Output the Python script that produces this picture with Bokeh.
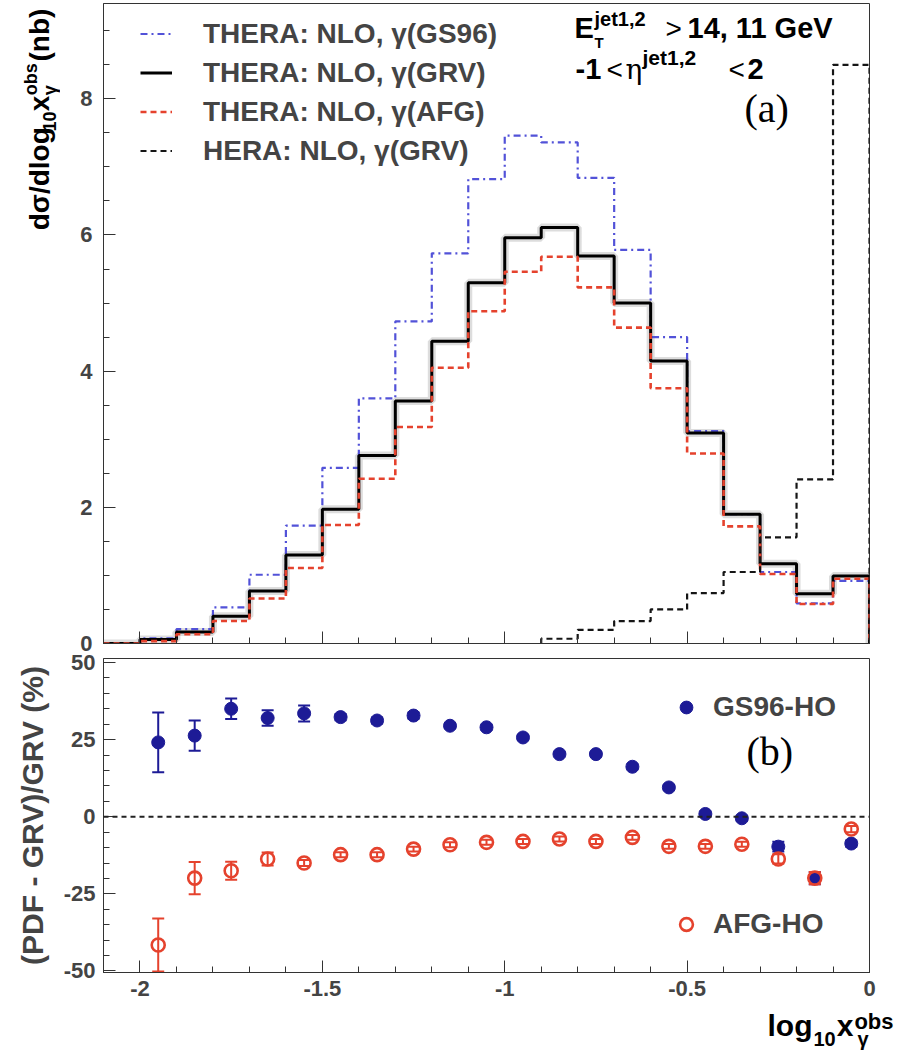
from math import pi
from bokeh.plotting import figure
from bokeh.models import (Range1d, FixedTicker, CustomJSTickFormatter, Legend, LegendItem,
                          Label, Span, Whisker, ColumnDataSource, TeeHead)
from bokeh.layouts import column, row
from bokeh.embed import file_html
from bokeh.resources import INLINE

# ---------------- data ----------------
bin_edges = [-2.1, -2.0, -1.9, -1.8, -1.7, -1.6, -1.5, -1.4, -1.3, -1.2, -1.1,
             -1.0, -0.9, -0.8, -0.7, -0.6, -0.5, -0.4, -0.3, -0.2, -0.1, 0.0]
thera_gs96 = [0.0, 0.075, 0.21, 0.53, 1.01, 1.73, 2.58, 3.60, 4.73, 5.73, 6.82,
              7.46, 7.36, 6.84, 5.78, 4.50, 3.12, 1.90, 1.05, 0.59, 0.92]
thera_grv = [0.0, 0.06, 0.17, 0.40, 0.77, 1.30, 1.97, 2.76, 3.56, 4.44, 5.30,
             5.96, 6.11, 5.69, 5.00, 4.15, 3.09, 1.90, 1.17, 0.73, 0.99]
thera_afg = [0.0, 0.035, 0.135, 0.33, 0.66, 1.11, 1.74, 2.42, 3.18, 4.05, 4.88,
             5.46, 5.68, 5.23, 4.64, 3.75, 2.79, 1.72, 1.02, 0.58, 0.95]
hera_edges = [-0.9, -0.8, -0.7, -0.6, -0.5, -0.4, -0.3, -0.2, -0.1, 0.0]
hera_grv = [0.07, 0.20, 0.33, 0.50, 0.74, 1.05, 1.56, 2.41, 8.50]

ratio_x = [-1.95, -1.85, -1.75, -1.65, -1.55, -1.45, -1.35, -1.25, -1.15, -1.05,
           -0.95, -0.85, -0.75, -0.65, -0.55, -0.45, -0.35, -0.25, -0.15, -0.05]
gs96_ratio = [24.1, 26.3, 35.0, 32.0, 33.5, 32.3, 31.2, 32.8, 29.5, 29.0,
              25.7, 20.3, 20.3, 16.2, 9.5, 0.9, -0.5, -9.7, -19.9, -8.7]
gs96_err = [9.7, 4.9, 3.3, 2.5, 2.6, 1.0, 1.0, 1.0, 0.8, 0.8,
            0.8, 0.8, 0.8, 0.8, 0.8, 0.8, 0.8, 1.6, 2.0, 1.0]
afg_ratio = [-41.6, -19.9, -17.5, -13.7, -15.0, -12.3, -12.3, -10.5, -9.1, -8.3,
             -8.0, -7.2, -8.0, -6.7, -9.6, -9.6, -8.9, -13.7, -19.9, -4.0]
afg_err = [8.6, 5.2, 2.9, 2.1, 1.0, 0.8, 0.8, 0.8, 0.8, 0.8,
           0.8, 0.8, 0.8, 0.8, 0.8, 0.8, 0.8, 1.5, 2.0, 1.0]

x_ticks = [-2.0, -1.5, -1.0, -0.5, 0.0]
top_y_ticks = [0, 2, 4, 6, 8]
bot_y_ticks = [-50, -25, 0, 25, 50]

# ---------------- helpers ----------------
FONT = "Liberation Sans"
C_BLUE_LINE = "#5252d8"
C_RED = "#e5422d"
C_NAVY = "#1d1b96"
BASE_SHIFT = 0.36   # empirical baseline correction (fraction of font size)

W = {' ': .278, '(': .333, ')': .333, ',': .278, '-': .333, '.': .278, '/': .278,
     ':': .333, '<': .584, '>': .584, '%': .889, 'A': .722, 'D': .722, 'E': .667,
     'F': .611, 'G': .778, 'H': .722, 'L': .611, 'N': .722, 'O': .778, 'P': .667,
     'R': .722, 'S': .667, 'T': .611, 'V': .667, 'b': .611, 'd': .611, 'e': .556,
     'g': .611, 'j': .278, 'l': .278, 'n': .611, 'o': .611, 's': .556, 't': .333,
     'x': .556, 'γ': .556, 'σ': .617, 'η': .611}


def tw(s, size):
    return sum(W.get(c, 0.556) for c in s) * size


def step_xy(edges, vals):
    xs, ys = [edges[0]], [0.0]
    for i, v in enumerate(vals):
        xs += [edges[i], edges[i + 1]]
        ys += [v, v]
    xs.append(edges[-1])
    ys.append(0.0)
    return xs, ys


def make_label(x, y, text, size, style="bold", font=FONT, angle=0.0,
               x_offset=0, y_offset=0):
    return Label(x=x, y=y, x_offset=x_offset, y_offset=y_offset, text=text,
                 text_font=font, text_font_size=f"{size}px", text_font_style=style,
                 angle=angle, text_align="left", text_baseline="alphabetic",
                 text_color="black")


def corrected(px, py, size, angle):
    sh = BASE_SHIFT * size
    if angle == 0.0:
        return px, py - sh
    return px - sh, py


FRAME_LEFT = 103


def put(p, anchor, frame_bottom, px, py, text, size, style="bold", font=FONT, angle=0.0):
    """Label inside a plot frame, positioned in page pixels relative to a frame anchor."""
    px, py = corrected(px, py, size, angle)
    p.add_layout(make_label(anchor[0], anchor[1], text, size, style, font, angle,
                            x_offset=px - FRAME_LEFT, y_offset=frame_bottom - py))


def text_fig(w, h):
    f = figure(width=w, height=h, x_range=Range1d(0, w), y_range=Range1d(h, 0),
               x_axis_type=None, y_axis_type=None, output_backend="svg",
               toolbar_location=None, min_border=0)
    f.grid.visible = False
    f.outline_line_color = None
    f.background_fill_alpha = 0.0
    f.border_fill_alpha = 0.0
    return f


def tput(f, origin, px, py, text, size, style="bold", font=FONT, angle=0.0):
    px, py = corrected(px, py, size, angle)
    f.add_layout(make_label(px - origin[0], py - origin[1], text, size, style, font, angle))


fmt = CustomJSTickFormatter(code="return String(Math.round(tick*10)/10);")
blank_fmt = CustomJSTickFormatter(code="return '';")


def style_axis(ax, size, standoff, formatter=fmt):
    ax.major_label_text_font = FONT
    ax.major_label_text_font_style = "bold"
    ax.major_label_text_font_size = size
    ax.major_label_standoff = standoff
    ax.major_tick_in = 12
    ax.major_tick_out = 0
    ax.minor_tick_in = 6
    ax.minor_tick_out = 0
    ax.axis_line_color = "#333333"
    ax.major_tick_line_color = "#333333"
    ax.minor_tick_line_color = "#333333"
    ax.formatter = formatter


x_minor = [round(-2.1 + 0.1 * i, 2) for i in range(22)]

LEFT_W = 60
OVERLAP = 20
TOP_H = 3 + 640 + OVERLAP          # 663
BOT_TOP = 643                      # page y where the bottom row starts
BOT_H = 15 + 314 + 35              # 364
TITLE_TOP = BOT_TOP + BOT_H        # 1007
TITLE_H = 1055 - TITLE_TOP

# ---------------- top panel ----------------
p1 = figure(width=905 - LEFT_W, height=TOP_H, x_range=Range1d(-2.1, 0.0),
            y_range=Range1d(0, 9.4), output_backend="svg", toolbar_location=None,
            min_border_left=FRAME_LEFT - LEFT_W, min_border_right=36,
            min_border_top=3, min_border_bottom=OVERLAP)
p1.grid.visible = False
p1.outline_line_color = "#333333"
p1.border_fill_alpha = 0.0

gx, gy = step_xy(bin_edges, thera_gs96)
kx, ky = step_xy(bin_edges, thera_grv)
ax_, ay_ = step_xy(bin_edges, thera_afg)
hx, hy = step_xy(hera_edges, hera_grv)

p1.line(kx, ky, line_color="#909090", line_alpha=0.3, line_width=8)
r_gs = p1.line(gx, gy, line_color=C_BLUE_LINE, line_width=2.2, line_dash="7 4 2 4")
r_grv = p1.line(kx, ky, line_color="black", line_width=3)
r_afg = p1.line(ax_, ay_, line_color=C_RED, line_width=2.6, line_dash="6 4")
r_hera = p1.line(hx, hy, line_color="#151515", line_width=2.2, line_dash="6 4")

p1.xaxis.ticker = FixedTicker(ticks=x_ticks, minor_ticks=x_minor)
p1.yaxis.ticker = FixedTicker(ticks=top_y_ticks, minor_ticks=[0.5 * i for i in range(19)])
style_axis(p1.xaxis[0], "2px", 0, formatter=blank_fmt)
style_axis(p1.yaxis[0], "22px", 11)

leg1 = Legend(items=[LegendItem(label="THERA: NLO, γ(GS96)", renderers=[r_gs]),
                     LegendItem(label="THERA: NLO, γ(GRV)", renderers=[r_grv]),
                     LegendItem(label="THERA: NLO, γ(AFG)", renderers=[r_afg]),
                     LegendItem(label="HERA: NLO, γ(GRV)", renderers=[r_hera])],
              location=(37, 473), padding=0, margin=0, spacing=0,
              glyph_width=32, glyph_height=39, label_height=39, label_standoff=31,
              label_text_font=FONT, label_text_font_style="bold",
              label_text_font_size="28px", border_line_color=None,
              background_fill_alpha=0.0)
p1.add_layout(leg1)

A1 = (-2.1, 0.0)
B1 = 643
# cuts annotation
put(p1, A1, B1, 574, 38, "E", 29)
put(p1, A1, B1, 594, 26, "jet1,2", 20)
put(p1, A1, B1, 594, 47, "T", 15)
put(p1, A1, B1, 665, 38, ">", 28, style="normal")
put(p1, A1, B1, 687, 38, "14, 11 GeV", 29)
put(p1, A1, B1, 575, 79, "-1", 29)
put(p1, A1, B1, 606, 79, "<", 28, style="normal")
put(p1, A1, B1, 625, 79, "η", 28, style="normal", font="DejaVu Serif")
put(p1, A1, B1, 642, 65, "jet1,2", 21)
put(p1, A1, B1, 728, 79, "<", 28, style="normal")
put(p1, A1, B1, 747, 79, "2", 29)
put(p1, A1, B1, 744, 122, "(a)", 40, style="normal", font="Liberation Serif")

# ---------------- bottom panel ----------------
p2 = figure(width=905, height=BOT_H, x_range=Range1d(-2.1, 0.0),
            y_range=Range1d(-50.5, 51.3), output_backend="svg", toolbar_location=None,
            min_border_left=FRAME_LEFT, min_border_right=36,
            min_border_top=15, min_border_bottom=35)
p2.grid.visible = False
p2.outline_line_color = "#333333"
p2.border_fill_alpha = 0.0

p2.add_layout(Span(location=0, dimension="width", line_color="#222222",
                   line_dash="5 4", line_width=2))

src_gs = ColumnDataSource(dict(x=ratio_x, y=gs96_ratio,
                               up=[v + e for v, e in zip(gs96_ratio, gs96_err)],
                               lo=[v - e for v, e in zip(gs96_ratio, gs96_err)]))
src_afg = ColumnDataSource(dict(x=ratio_x, y=afg_ratio,
                                up=[v + e for v, e in zip(afg_ratio, afg_err)],
                                lo=[max(v - e, -50.4) for v, e in zip(afg_ratio, afg_err)]))

for src, col in ((src_gs, C_NAVY), (src_afg, C_RED)):
    p2.add_layout(Whisker(source=src, base="x", upper="up", lower="lo",
                          line_color=col, line_width=2,
                          upper_head=TeeHead(size=12, line_color=col, line_width=2),
                          lower_head=TeeHead(size=12, line_color=col, line_width=2)))

r_gs_pts = p2.scatter("x", "y", source=src_gs, size=13, fill_color=C_NAVY,
                      line_color=C_NAVY)
r_afg_pts = p2.scatter("x", "y", source=src_afg, size=13, fill_color=None,
                       line_color=C_RED, line_width=2.6)

p2.xaxis.ticker = FixedTicker(ticks=x_ticks, minor_ticks=x_minor)
p2.yaxis.ticker = FixedTicker(ticks=bot_y_ticks, minor_ticks=[-50 + 5 * i for i in range(21)])
style_axis(p2.xaxis[0], "22px", 8)
style_axis(p2.yaxis[0], "22px", 8)
p2.yaxis.axis_label = "(PDF - GRV)/GRV (%)"
p2.yaxis.axis_label_text_font = FONT
p2.yaxis.axis_label_text_font_style = "bold"
p2.yaxis.axis_label_text_font_size = "30px"
p2.yaxis.axis_label_standoff = 12

for lab, rr, loc in (("GS96-HO", r_gs_pts, (567, 245)), ("AFG-HO", r_afg_pts, (567, 28))):
    p2.add_layout(Legend(items=[LegendItem(label=lab, renderers=[rr])], location=loc,
                         padding=0, margin=0, spacing=0, glyph_width=32, glyph_height=40,
                         label_height=40, label_standoff=11, label_text_font=FONT,
                         label_text_font_style="bold", label_text_font_size="28px",
                         border_line_color=None, background_fill_alpha=0.0))

A2 = (-2.1, -50.5)
B2 = 972
put(p2, A2, B2, 746, 765, "(b)", 40, style="normal", font="Liberation Serif")

# ---------------- title strips (text only) ----------------
t1 = text_fig(LEFT_W, TOP_H)
o1 = (0, 0)
bx, yy = 49, 235
tput(t1, o1, bx, yy, "dσ/dlog", 28, angle=pi / 2); yy -= tw("dσ/dlog", 28) + 1
tput(t1, o1, bx + 6, yy, "10", 18, angle=pi / 2); yy -= tw("10", 18) + 1
tput(t1, o1, bx, yy, "x", 28, angle=pi / 2); yy -= tw("x", 28) + 1
tput(t1, o1, bx - 12, yy, "obs", 18, angle=pi / 2)
tput(t1, o1, bx + 7, yy, "γ", 18, angle=pi / 2); yy -= tw("obs", 18) + 3
tput(t1, o1, bx, yy, " (nb)", 28, angle=pi / 2)

t3 = text_fig(905, TITLE_H)
o3 = (0, TITLE_TOP)
xx, base = 767, 1036
tput(t3, o3, xx, base, "log", 30); xx += tw("log", 30) + 1
tput(t3, o3, xx, base + 10, "10", 20); xx += tw("10", 20) + 1
tput(t3, o3, xx, base, "x", 30); xx += tw("x", 30) + 1
tput(t3, o3, xx, base - 7, "obs", 22)
tput(t3, o3, xx + 3, base + 10, "γ", 20)

top_row = row(t1, p1, spacing=0)
bot_row = row(p2, spacing=0, margin=(-OVERLAP, 0, 0, 0))
layout = column(top_row, bot_row, t3, spacing=0)
open("out.html", "w").write(file_html(layout, INLINE))
